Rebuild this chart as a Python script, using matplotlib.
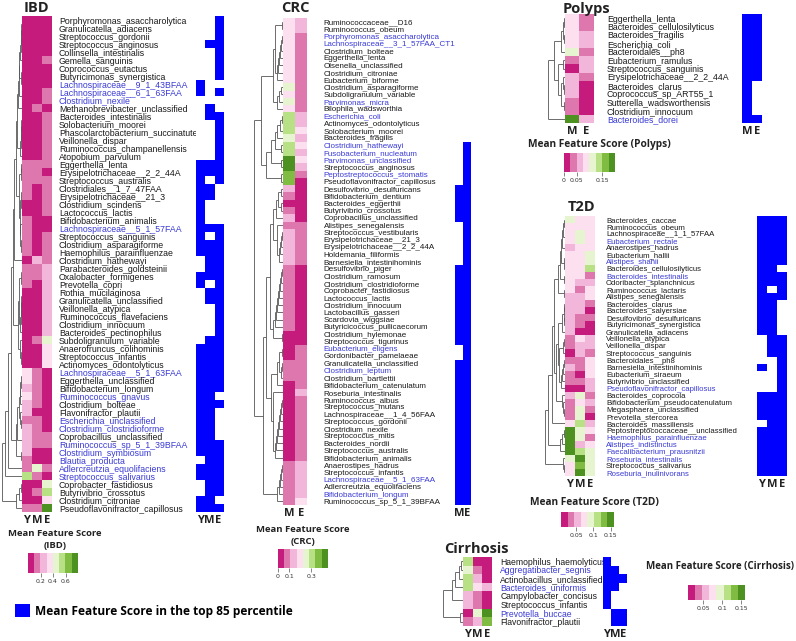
import numpy as np
import matplotlib.pyplot as plt
from matplotlib.colors import ListedColormap
from matplotlib.collections import LineCollection
from matplotlib.patches import Patch

W, H = 796, 641
fig = plt.figure(figsize=(W / 100, H / 100), dpi=100)

score_colors = ['#c51b7d', '#de77ae', '#f1b6da', '#fde0ef',
                '#e6f5d0', '#b8e186', '#7fbc41', '#4d9221']
score_cmap = ListedColormap(score_colors)
top_cmap = ListedColormap(['white', '#0000ff'])
label_blue = '#3a3ad6'

# ---------------- IBD ----------------
ibd_labels = [
    'Porphyromonas_asaccharolytica', 'Granulicatella_adiacens', 'Streptococcus_gordonii',
    'Streptococcus_anginosus', 'Collinsella_intestinalis', 'Gemella_sanguinis',
    'Coprococcus_eutactus', 'Butyricimonas_synergistica', 'Lachnospiraceae__9_1_43BFAA',
    'Lachnospiraceae__6_1_63FAA', 'Clostridium_nexile', 'Methanobrevibacter_unclassified',
    'Bacteroides_intestinalis', 'Solobacterium_moorei', 'Phascolarctobacterium_succinatutens',
    'Veillonella_dispar', 'Ruminococcus_champanellensis', 'Atopobium_parvulum',
    'Eggerthella_lenta', 'Erysipelotrichaceae__2_2_44A', 'Streptococcus_australis',
    'Clostridiales__1_7_47FAA', 'Erysipelotrichaceae__21_3', 'Clostridium_scindens',
    'Lactococcus_lactis', 'Bifidobacterium_animalis', 'Lachnospiraceae__5_1_57FAA',
    'Streptococcus_sanguinis', 'Clostridium_asparagiforme', 'Haemophilus_parainfluenzae',
    'Clostridium_hathewayi', 'Parabacteroides_goldsteinii', 'Oxalobacter_formigenes',
    'Prevotella_copri', 'Rothia_mucilaginosa', 'Granulicatella_unclassified',
    'Veillonella_atypica', 'Ruminococcus_flavefaciens', 'Clostridium_innocuum',
    'Bacteroides_pectinophilus', 'Subdoligranulum_variable', 'Anaerofruncus_colihominis',
    'Streptococcus_infantis', 'Actinomyces_odontolyticus', 'Lachnospiraceae__5_1_63FAA',
    'Eggerthella_unclassified', 'Bifidobacterium_longum', 'Ruminococcus_gnavus',
    'Clostridium_bolteae', 'Flavonifractor_plautii', 'Escherichia_unclassified',
    'Clostridium_clostridioforme', 'Coprobacillus_unclassified', 'Ruminococcus_sp_5_1_39BFAA',
    'Clostridium_symbiosum', 'Blautia_producta', 'Adlercreutzia_equolifaciens',
    'Streptococcus_salivarius', 'Coprobacter_fastidiosus', 'Butyrivibrio_crossotus',
    'Clostridium_citroniae', 'Pseudoflavonifractor_capillosus']
ibd_blue = ['Lachnospiraceae__9_1_43BFAA', 'Lachnospiraceae__6_1_63FAA', 'Clostridium_nexile',
            'Lachnospiraceae__5_1_57FAA', 'Lachnospiraceae__5_1_63FAA', 'Ruminococcus_gnavus',
            'Escherichia_unclassified', 'Clostridium_clostridioforme', 'Ruminococcus_sp_5_1_39BFAA',
            'Clostridium_symbiosum', 'Blautia_producta', 'Adlercreutzia_equolifaciens',
            'Streptococcus_salivarius']
# score level (0 = lowest .. 7 = highest) for Y, M, E
ibd_levels = [
    '000', '000', '000', '000', '000', '001', '000', '000', '000', '001',
    '001', '010', '001', '001', '001', '001', '001', '001', '111', '110',
    '111', '101', '101', '001', '001', '100', '100', '101', '101', '101',
    '021', '112', '112', '102', '002', '002', '002', '002', '002', '002',
    '014', '003', '003', '003', '310', '310', '210', '310', '210', '200',
    '110', '210', '211', '211', '200', '100', '141', '510', '004', '015',
    '003', '117']
ibd_top = [
    '001', '001', '001', '011', '001', '001', '001', '001', '100', '101',
    '000', '010', '011', '001', '001', '001', '001', '001', '111', '111',
    '101', '110', '110', '100', '100', '100', '111', '101', '111', '111',
    '011', '011', '111', '101', '011', '011', '001', '001', '001', '001',
    '011', '111', '111', '111', '111', '111', '111', '110', '111', '110',
    '110', '110', '110', '111', '111', '011', '111', '111', '011', '011',
    '110', '111']

# ---------------- CRC ----------------
crc_labels = [
    'Ruminococcaceae__D16', 'Ruminococcus_obeum', 'Porphyromonas_asaccharolytica',
    'Lachnospiraceae__3_1_57FAA_CT1', 'Clostridium_bolteae', 'Eggerthella_lenta',
    'Olsenella_unclassified', 'Clostridium_citroniae', 'Eubacterium_biforme',
    'Clostridium_asparagiforme', 'Subdoligranulum_variable', 'Parvimonas_micra',
    'Bilophila_wadsworthia', 'Escherichia_coli', 'Actinomyces_odontolyticus',
    'Solobacterium_moorei', 'Bacteroides_fragilis', 'Clostridium_hathewayi',
    'Fusobacterium_nucleatum', 'Parvimonas_unclassified', 'Streptococcus_anginosus',
    'Peptostreptococcus_stomatis', 'Pseudoflavonifractor_capillosus', 'Desulfovibrio_desulfuricans',
    'Bifidobacterium_dentium', 'Bacteroides_eggerthii', 'Butyrivibrio_crossotus',
    'Coprobacillus_unclassified', 'Alistipes_senegalensis', 'Streptococcus_vestibularis',
    'Erysipelotrichaceae__21_3', 'Erysipelotrichaceae__2_2_44A', 'Holdemania_filiformis',
    'Barnesiella_intestinihominis', 'Desulfovibrio_piger', 'Clostridium_ramosum',
    'Clostridium_clostridioforme', 'Coprobacter_fastidiosus', 'Lactococcus_lactis',
    'Clostridium_innocuum', 'Lactobacillus_gasseri', 'Scardovia_wiggsiae',
    'Butyricicoccus_pullicaecorum', 'Clostridium_hylemonae', 'Streptococcus_tigurinus',
    'Eubacterium_eligens', 'Gordonibacter_pamelaeae', 'Granulicatella_unclassified',
    'Clostridium_leptum', 'Clostridium_bartlettii', 'Bifidobacterium_catenulatum',
    'Roseburia_intestinalis', 'Ruminococcus_albus', 'Streptococcus_mutans',
    'Lachnospiraceae__1_4_56FAA', 'Streptococcus_gordonii', 'Clostridium_nexile',
    'Streptococcus_mitis', 'Bacteroides_nordii', 'Streptococcus_australis',
    'Bifidobacterium_animalis', 'Anaerostipes_hadrus', 'Streptococcus_infantis',
    'Lachnospiraceae__5_1_63FAA', 'Adlercreutzia_equolifaciens', 'Bifidobacterium_longum',
    'Ruminococcus_sp_5_1_39BFAA']
crc_blue = ['Porphyromonas_asaccharolytica', 'Lachnospiraceae__3_1_57FAA_CT1', 'Parvimonas_micra',
            'Escherichia_coli', 'Clostridium_hathewayi', 'Fusobacterium_nucleatum',
            'Parvimonas_unclassified', 'Peptostreptococcus_stomatis', 'Eubacterium_eligens',
            'Clostridium_leptum', 'Lachnospiraceae__5_1_63FAA', 'Bifidobacterium_longum']
crc_levels = [
    '32', '32', '31', '31', '31', '31', '31', '31', '31', '41',
    '31', '41', '31', '52', '52', '53', '42', '53', '52', '73',
    '72', '61', '60', '20', '10', '00', '10', '20', '11', '21',
    '21', '21', '21', '21', '10', '10', '10', '10', '10', '10',
    '10', '10', '10', '00', '00', '01', '01', '11', '11', '11',
    '01', '02', '01', '01', '01', '01', '01', '01', '01', '01',
    '01', '12', '12', '12', '12', '12', '13']
crc_top = [
    '00', '00', '00', '00', '00', '00', '00', '00', '00', '00',
    '00', '00', '00', '00', '00', '00', '00', '01', '01', '01',
    '01', '01', '01', '11', '11', '11', '11', '11', '01', '01',
    '01', '01', '01', '01', '11', '11', '11', '11', '11', '11',
    '11', '11', '11', '11', '11', '01', '01', '11', '11', '11',
    '11', '11', '11', '11', '11', '11', '11', '11', '11', '11',
    '11', '11', '11', '11', '11', '11', '11']

# ---------------- Polyps ----------------
polyps_labels = [
    'Eggerthella_lenta', 'Bacteroides_cellulosilyticus', 'Bacteroides_fragilis',
    'Escherichia_coli', 'Bacteroidales__ph8', 'Eubacterium_ramulus',
    'Streptococcus_sanguinis', 'Erysipelotrichaceae__2_2_44A', 'Bacteroides_clarus',
    'Coprococcus_sp_ART55_1', 'Sutterella_wadsworthensis', 'Clostridium_innocuum',
    'Bacteroides_dorei']
polyps_blue = ['Bacteroides_dorei']
polyps_levels = ['31', '31', '32', '32', '41', '12', '02', '21', '20', '20', '10', '10', '72']
polyps_top = ['11', '11', '11', '11', '11', '11', '11', '11', '10', '10', '10', '10', '11']

# ---------------- T2D ----------------
t2d_labels = [
    'Bacteroides_caccae', 'Ruminococcus_obeum', 'Lachnospiraceae__1_1_57FAA',
    'Eubacterium_rectale', 'Anaerostipes_hadrus', 'Eubacterium_hallii', 'Alistipes_shahii',
    'Bacteroides_cellulosilyticus', 'Bacteroides_intestinalis', 'Odoribacter_splanchnicus',
    'Ruminococcus_lactaris', 'Alistipes_senegalensis', 'Bacteroides_clarus',
    'Bacteroides_salyersiae', 'Desulfovibrio_desulfuricans', 'Butyricimonas_synergistica',
    'Granulicatella_adiacens', 'Veillonella_atypica', 'Veillonella_dispar',
    'Streptococcus_sanguinis', 'Bacteroidales__ph8', 'Barnesiella_intestinihominis',
    'Eubacterium_siraeum', 'Butyrivibrio_unclassified', 'Pseudoflavonifractor_capillosus',
    'Bacteroides_coprocola', 'Bifidobacterium_pseudocatenulatum', 'Megasphaera_unclassified',
    'Prevotella_stercorea', 'Bacteroides_massiliensis', 'Peptostreptococcaceae__unclassified',
    'Haemophilus_parainfluenzae', 'Alistipes_indistinctus', 'Faecalibacterium_prausnitzii',
    'Roseburia_intestinalis', 'Streptococcus_salivarius', 'Roseburia_inulinivorans']
t2d_blue = ['Eubacterium_rectale', 'Alistipes_shahii', 'Bacteroides_intestinalis',
            'Pseudoflavonifractor_capillosus', 'Haemophilus_parainfluenzae',
            'Alistipes_indistinctus', 'Faecalibacterium_prausnitzii',
            'Roseburia_intestinalis', 'Roseburia_inulinivorans']
t2d_levels = [
    '433', '333', '343', '343', '233', '334', '334', '335', '331', '322',
    '313', '223', '221', '220', '211', '210', '200', '132', '122', '021',
    '113', '213', '103', '112', '002', '241', '132', '141', '140', '352',
    '743', '741', '723', '754', '474', '364', '374']
t2d_top = [
    '111', '111', '111', '111', '111', '111', '111', '110', '111', '111',
    '101', '111', '110', '110', '110', '110', '110', '011', '011', '011',
    '001', '101', '001', '001', '001', '111', '111', '111', '111', '011',
    '111', '111', '111', '111', '111', '111', '111']

# ---------------- Cirrhosis ----------------
cirr_labels = [
    'Haemophilus_haemolyticus', 'Aggregatibacter_segnis', 'Actinobacillus_unclassified',
    'Bacteroides_uniformis', 'Campylobacter_concisus', 'Streptococcus_infantis',
    'Prevotella_buccae', 'Flavonifractor_plautii']
cirr_blue = ['Aggregatibacter_segnis', 'Bacteroides_uniformis', 'Prevotella_buccae']
cirr_levels = ['500', '410', '520', '532', '210', '210', '047', '126']
cirr_top = ['100', '110', '111', '110', '100', '100', '011', '011']


def px_axes(x0, y0, x1, y1):
    return fig.add_axes([x0 / W, 1 - y1 / H, (x1 - x0) / W, (y1 - y0) / H])


def to_array(rows):
    return np.array([[int(c) for c in r] for r in rows])


def draw_dendrogram(ax, vals):
    # merge neighbouring clusters, closest first
    clusters = [[float(i), 0.0, vals[i].astype(float), 1] for i in range(len(vals))]
    segs = []
    while len(clusters) > 1:
        d = [np.abs(clusters[k][2] - clusters[k + 1][2]).sum() for k in range(len(clusters) - 1)]
        k = int(np.argmin(d))
        a, b = clusters[k], clusters[k + 1]
        h = max(a[1], b[1]) + 0.4 + d[k] * 0.6
        segs += [[(a[1], a[0]), (h, a[0])], [(b[1], b[0]), (h, b[0])], [(h, a[0]), (h, b[0])]]
        n = a[3] + b[3]
        clusters[k:k + 2] = [[(a[0] + b[0]) / 2, h, (a[2] * a[3] + b[2] * b[3]) / n, n]]
    ax.add_collection(LineCollection(segs, colors='#555555', linewidths=0.6))
    ax.set_xlim(clusters[0][1] * 1.01, 0)
    ax.set_ylim(len(vals) - 0.5, -0.5)
    ax.axis('off')


def col_ticks(ax, cols, size=8):
    ax.set_xticks(range(len(cols)))
    ax.set_xticklabels(cols, fontsize=size, fontweight='bold', family='Open Sans', color='#222222')
    ax.tick_params(axis='x', length=0, pad=2)
    for s in ax.spines.values():
        s.set_visible(False)


def panel(title, labels, blue, levels, top, cols, heat, pad, mask, dendro_x, fsize, title_xy):
    vals = to_array(levels)
    x0, y0, x1, y1 = heat
    ax = px_axes(*heat)
    ax.imshow(vals, cmap=score_cmap, vmin=-0.5, vmax=7.5, aspect='auto', interpolation='nearest')
    ax.yaxis.tick_right()
    ax.set_yticks(range(len(labels)))
    ax.set_yticklabels(labels, fontsize=fsize, family='Liberation Sans')
    ax.tick_params(axis='y', length=0, pad=pad)
    for t, name in zip(ax.get_yticklabels(), labels):
        t.set_color(label_blue if name in blue else '#1a1a1a')
    col_ticks(ax, cols)

    dax = px_axes(dendro_x, y0, x0, y1)
    draw_dendrogram(dax, vals)

    max_ = px_axes(mask[0], y0, mask[1], y1)
    max_.imshow(to_array(top), cmap=top_cmap, vmin=0, vmax=1, aspect='auto', interpolation='nearest')
    max_.set_yticks([])
    col_ticks(max_, cols)

    fig.text(title_xy[0] / W, 1 - title_xy[1] / H, title, ha='center', va='center',
             fontsize=10.5, fontweight='bold', family='Open Sans', color='#222222')


def colorbar(bar, lo, hi, ticks, ticklabels, title_lines, title_x, title_y, tsize=6.8):
    cax = px_axes(*bar)
    cax.imshow(np.arange(8)[None, :], cmap=score_cmap, extent=(lo, hi, 0, 1), aspect='auto')
    cax.set_yticks([])
    cax.set_xticks(ticks)
    cax.set_xticklabels(ticklabels, fontsize=4.5, color='#333333')
    cax.tick_params(axis='x', length=3, width=0.5, pad=1.5, color='#555555')
    for s in cax.spines.values():
        s.set_visible(False)
    for i, line in enumerate(title_lines):
        fig.text(title_x / W, 1 - (title_y + i * 12) / H, line, ha='center', va='center',
                 fontsize=tsize, fontweight='bold', family='Open Sans', color='#222222')


panel('IBD', ibd_labels, ibd_blue, ibd_levels, ibd_top, ['Y', 'M', 'E'],
      (22, 16, 52, 512), 5, (196, 223), 2, 6.3, (36, 8))
panel('CRC', crc_labels, crc_blue, crc_levels, crc_top, ['M', 'E'],
      (283, 18, 307, 505), 12, (455, 471), 254, 5.8, (295, 8))
panel('Polyps', polyps_labels, polyps_blue, polyps_levels, polyps_top, ['M', 'E'],
      (565, 14, 593, 123), 10, (742, 762), 548, 6.3, (586, 9))
panel('T2D', t2d_labels, t2d_blue, t2d_levels, t2d_top, ['Y', 'M', 'E'],
      (565, 216, 595, 476), 8, (757, 787), 545, 5.6, (582, 207))
panel('Cirrhosis', cirr_labels, cirr_blue, cirr_levels, cirr_top, ['Y', 'M', 'E'],
      (463, 557, 492, 626), 6, (603, 627), 443, 6.2, (476, 549))

colorbar((28, 553, 78, 573), 0, 0.8, [0.2, 0.4, 0.6], ['0.2', '0.4', '0.6'],
         ['Mean Feature Score', '(IBD)'], 55, 533)
colorbar((278, 549, 328, 568), 0, 0.45, [0, 0.1, 0.3], ['0', '0.1', '0.3'],
         ['Mean Feature Score', '(CRC)'], 303, 530)
colorbar((564, 153, 615, 172), 0, 0.2, [0, 0.05, 0.15], ['0', '0.05', '0.15'],
         ['Mean Feature Score (Polyps)'], 599, 145, 7.3)
colorbar((561, 512, 614, 527), 0.005, 0.16, [0.05, 0.1, 0.15], ['0.05', '0.1', '0.15'],
         ['Mean Feature Score (T2D)'], 594, 502, 7.3)
colorbar((688, 585, 745, 600), 0.01, 0.16, [0.05, 0.1, 0.15], ['0.05', '0.1', '0.15'],
         ['Mean Feature Score (Cirrhosis)'], 720, 567, 7.0)

fig.legend(handles=[Patch(facecolor='#0000ff', edgecolor='none',
                          label='Mean Feature Score in the top 85 percentile')],
           loc='center left', bbox_to_anchor=(4 / W, 1 - 611 / H), frameon=False,
           handlelength=1.3, handleheight=1.25, handletextpad=0.4,
           prop={'family': 'Open Sans', 'weight': 'bold', 'size': 8.6})

fig.savefig('out.png', dpi=100)
